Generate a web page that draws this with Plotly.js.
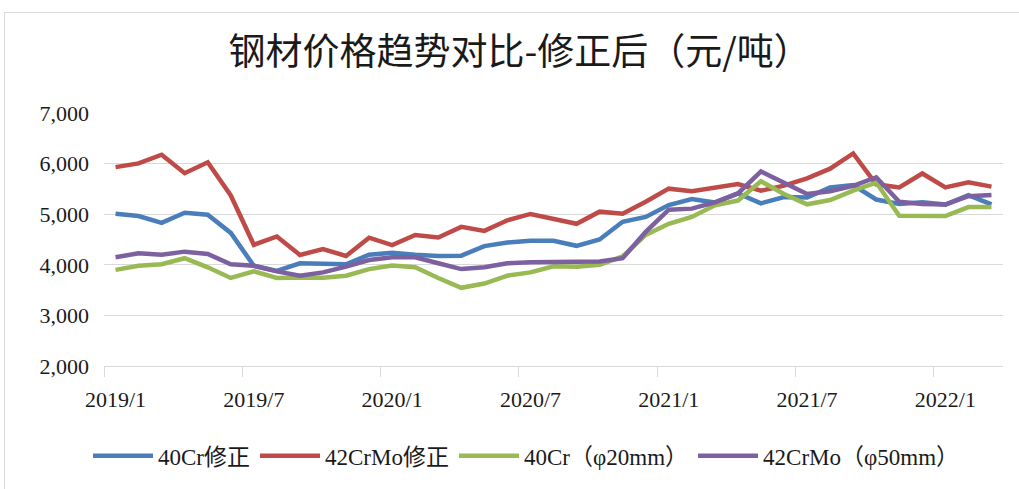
<!DOCTYPE html>
<html>
<head>
<meta charset="utf-8">
<script src="https://cdn.plot.ly/plotly-3.0.1.min.js"></script>
<style>
  html, body { margin: 0; padding: 0; background: #ffffff; }
  #frame { position: absolute; left: 4px; top: 12px; width: 1100px; height: 600px; border: 1px solid #d9d9d9; }
  #chart { position: absolute; left: 0; top: 0; width: 1019px; height: 489px; }
</style>
</head>
<body>
<div id="frame"></div>
<div id="chart"></div>
<script>
// Monthly points, 2019/1 .. 2022/3
const months = ["2019/1","2019/2","2019/3","2019/4","2019/5","2019/6","2019/7","2019/8","2019/9","2019/10","2019/11","2019/12",
  "2020/1","2020/2","2020/3","2020/4","2020/5","2020/6","2020/7","2020/8","2020/9","2020/10","2020/11","2020/12",
  "2021/1","2021/2","2021/3","2021/4","2021/5","2021/6","2021/7","2021/8","2021/9","2021/10","2021/11","2021/12",
  "2022/1","2022/2","2022/3"];

const cr40Fixed = [5010,4965,4830,5030,4990,4630,3980,3880,4030,4010,4010,4200,
  4240,4200,4175,4180,4370,4440,4475,4475,4375,4500,4850,4945,
  5180,5300,5230,5410,5215,5340,5330,5530,5575,5290,5200,5235,
  5190,5375,5195];

const crmo42Fixed = [5930,6005,6175,5810,6025,5370,4395,4560,4195,4310,4175,4535,
  4390,4590,4540,4750,4670,4880,5005,4900,4810,5050,5010,5245,
  5505,5455,5520,5595,5465,5565,5710,5900,6200,5590,5530,5805,
  5530,5630,5545];

const cr40Phi20 = [3900,3980,4010,4130,3950,3740,3870,3740,3750,3745,3785,3915,
  3985,3950,3740,3545,3630,3785,3850,3970,3960,4000,4165,4590,
  4810,4945,5175,5270,5650,5400,5195,5280,5465,5625,4970,4962,
  4962,5140,5140];

const crmo42Phi50 = [4150,4230,4200,4260,4215,4010,3980,3870,3785,3850,3965,4095,
  4150,4150,4030,3915,3950,4030,4050,4050,4050,4065,4130,4650,
  5090,5110,5235,5410,5845,5630,5400,5455,5560,5730,5245,5200,
  5190,5355,5380];

const seriesNames = ["40Cr修正","42CrMo修正","40Cr（φ20mm）","42CrMo（φ50mm）"];
const seriesColors = ["#4A7EBB","#BE4B48","#98B954","#7D60A0"];
const seriesData = [cr40Fixed, crmo42Fixed, cr40Phi20, crmo42Phi50];

const tickLabels = ["2019/1","2019/7","2020/1","2020/7","2021/1","2021/7","2022/1"];
const yTicks = [2000,3000,4000,5000,6000,7000];

const idx = months.map((m, i) => i);
const labelPos = tickLabels.map(t => months.indexOf(t));
const boundaryPos = labelPos.map(p => p - 0.5);

const traces = seriesData.map((d, k) => ({
  type: "scatter", mode: "lines",
  x: idx, y: d, name: seriesNames[k],
  text: months, hovertemplate: "%{text}: %{y}<extra>" + seriesNames[k] + "</extra>",
  line: { color: seriesColors[k], width: 4.5 }
}));
traces.push({ type: "scatter", mode: "lines", x: [], y: [], xaxis: "x2", showlegend: false, hoverinfo: "skip" });

const fontSerif = "'Liberation Serif', 'Times New Roman', 'Noto Sans CJK SC', serif";

const layout = {
  width: 1019, height: 489,
  paper_bgcolor: "rgba(0,0,0,0)", plot_bgcolor: "rgba(0,0,0,0)",
  margin: { l: 104, r: 16, t: 113, b: 120 },
  title: {
    text: "钢材价格趋势对比-修正后（元/吨）",
    font: { family: "'Noto Sans CJK SC', sans-serif", size: 37, color: "#1a1a1a" },
    x: 0.51, xanchor: "center", y: 0.894, yanchor: "middle"
  },
  xaxis: {
    range: [-0.5, months.length - 0.5],
    tickvals: labelPos, ticktext: tickLabels,
    ticks: "", showgrid: false, zeroline: false,
    showline: true, linecolor: "#d9d9d9", linewidth: 1,
    ticklabelstandoff: 14,
    tickfont: { family: fontSerif, size: 22, color: "#1a1a1a" },
    fixedrange: true
  },
  xaxis2: {
    overlaying: "x", anchor: "y", side: "bottom",
    range: [-0.5, months.length - 0.5],
    tickvals: boundaryPos, ticks: "outside", ticklen: 10, tickcolor: "#d9d9d9", tickwidth: 1,
    showticklabels: false, showgrid: false, zeroline: false, showline: false
  },
  yaxis: {
    range: [2000, 7000], tickvals: yTicks, tickformat: ",d",
    showgrid: true, gridcolor: "#d9d9d9", gridwidth: 1,
    zeroline: false, showline: false, ticks: "",
    ticklabelstandoff: 14,
    tickfont: { family: fontSerif, size: 22, color: "#1a1a1a" },
    fixedrange: true
  },
  legend: {
    orientation: "h", x: 0.47, xanchor: "center", y: -0.355, yanchor: "middle",
    font: { family: fontSerif, size: 23, color: "#1a1a1a" },
    itemwidth: 60, tracegroupgap: 0
  },
  showlegend: true
};

Plotly.newPlot("chart", traces, layout, { displayModeBar: false });
</script>
</body>
</html>
